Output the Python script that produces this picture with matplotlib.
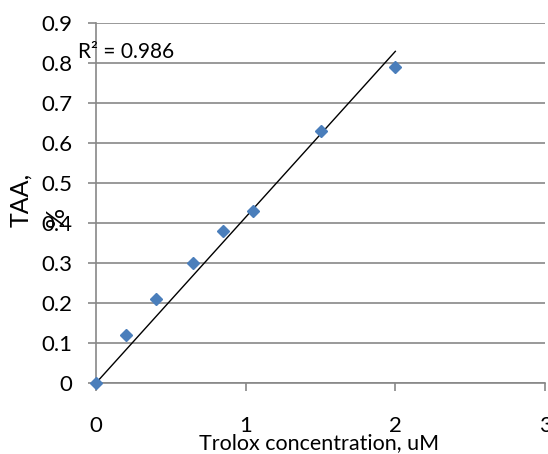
import numpy as np
import matplotlib
matplotlib.use("Agg")
import matplotlib.pyplot as plt

# Data
trolox_um = [0, 0.2, 0.4, 0.65, 0.85, 1.05, 1.5, 2.0]
taa = [0, 0.12, 0.21, 0.30, 0.38, 0.43, 0.63, 0.79]
x_ticks = [0, 1, 2, 3]
y_ticks = [0, 0.1, 0.2, 0.3, 0.4, 0.5, 0.6, 0.7, 0.8, 0.9]
x_label = "Trolox concentration, uM"
r2_label = "R² = 0.986"

plt.rcParams['font.family'] = ['Lato', 'DejaVu Sans']

W, H = 548, 454
fig = plt.figure(figsize=(W / 100, H / 100), dpi=100)
left, right, top, bottom = 96, 545, 22.7, 383
ax = fig.add_axes([left / W, 1 - bottom / H, (right - left) / W, (bottom - top) / H])

grid_c = '#878787'
ax.set_xlim(0, 3)
ax.set_ylim(0, 0.9)
ax.set_xticks(x_ticks)
ax.set_yticks(y_ticks)
ax.set_yticklabels([f"{v:g}" for v in y_ticks])
ax.set_xticklabels([str(v) for v in x_ticks])
ax.yaxis.grid(True, color=grid_c, linewidth=1.2)
ax.set_axisbelow(True)
for s in ['top', 'right']:
    ax.spines[s].set_visible(False)
for s in ['left', 'bottom']:
    ax.spines[s].set_color(grid_c)
    ax.spines[s].set_linewidth(1.2)
ax.tick_params(axis='y', length=6, width=1.2, color=grid_c, labelsize=16, pad=11)
ax.tick_params(axis='x', length=6, width=1.2, color=grid_c, labelsize=16, pad=18)

# Trendline through origin
xs = np.array(trolox_um)
ys = np.array(taa)
slope = np.sum(xs * ys) / np.sum(xs * xs)
xl = np.array([0, max(trolox_um)])
ax.plot(xl, slope * xl, color='black', linewidth=1.0, zorder=2, clip_on=False)

ax.plot(trolox_um, taa, linestyle='none', marker='D', markersize=6.2,
        color='#4A7EBB', zorder=3, clip_on=False)

fig.text(319 / W, 1 - 443 / H, x_label, ha='center', va='center', fontsize=15.5)
fig.text(21 / W, 1 - 200 / H, "TAA,", rotation=90, ha='center', va='center', fontsize=18)
fig.text(56 / W, 1 - 217 / H, "%", rotation=90, ha='center', va='center', fontsize=18)
fig.text(78 / W, 1 - 58 / H, r2_label, ha='left', va='baseline', fontsize=15)

fig.savefig("out.png", dpi=100)
